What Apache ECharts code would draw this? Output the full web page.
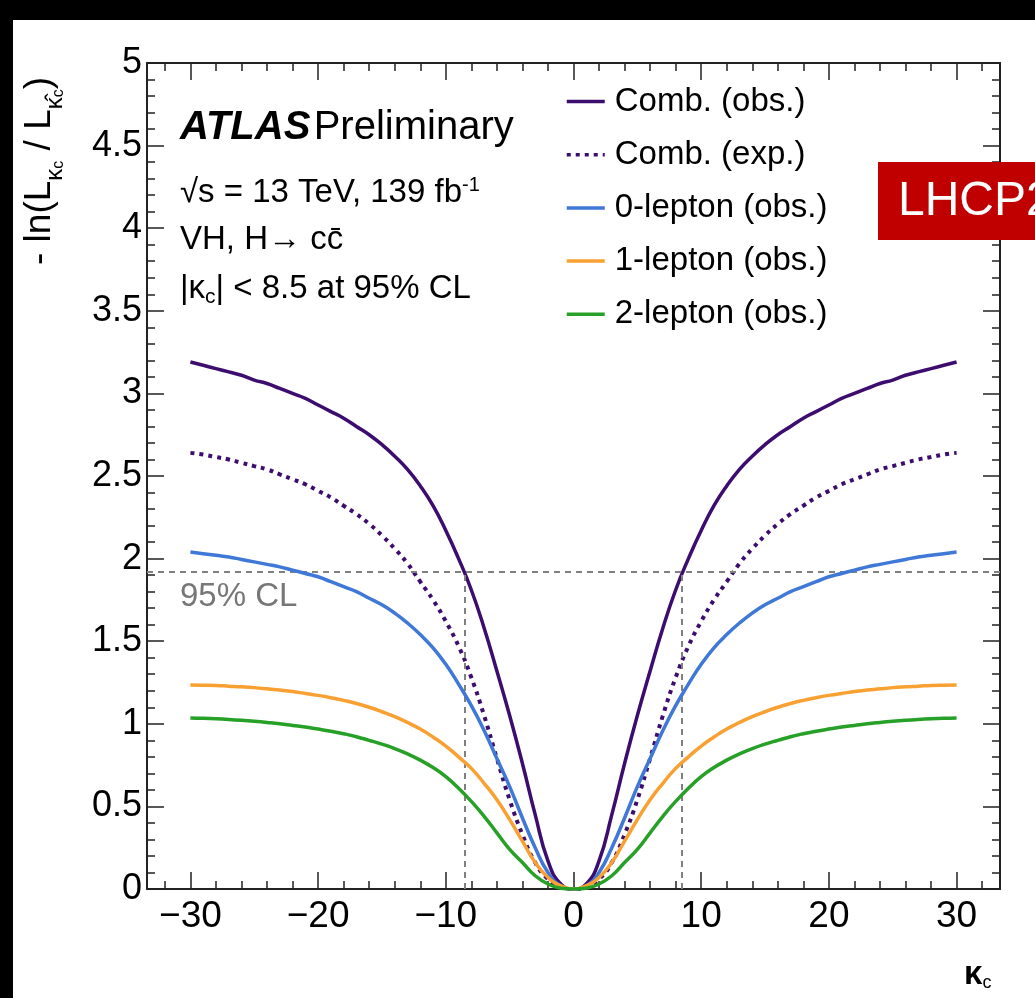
<!DOCTYPE html>
<html>
<head>
<meta charset="utf-8">
<script src="https://cdn.jsdelivr.net/npm/echarts@6/dist/echarts.min.js"></script>
<style>
html,body{margin:0;padding:0;background:#fff;}
#c{width:1035px;height:998px;}
</style>
</head>
<body>
<div id="c"></div>
<script>
const kappa = [-30,-29,-28,-27,-26,-25,-24,-23,-22,-21,-20,-19,-18,-17,-16,-15,-14,-13,-12,-11,-10,-9,-8,-7,-6,-5,-4,-3,-2,-1,0,1,2,3,4,5,6,7,8,9,10,11,12,13,14,15,16,17,18,19,20,21,22,23,24,25,26,27,28,29,30];
const combObs = [3.19,3.17,3.15,3.13,3.11,3.08,3.06,3.03,3.00,2.97,2.93,2.89,2.85,2.80,2.75,2.69,2.62,2.54,2.44,2.32,2.17,2.00,1.81,1.58,1.32,1.05,0.76,0.45,0.17,0.03,
  0,
  0.03,0.17,0.45,0.76,1.05,1.32,1.58,1.81,2.00,2.17,2.32,2.44,2.54,2.62,2.69,2.75,2.80,2.85,2.89,2.93,2.97,3.00,3.03,3.06,3.08,3.11,3.13,3.15,3.17,3.19];
const combExp = [2.64,2.63,2.615,2.60,2.58,2.56,2.54,2.51,2.48,2.45,2.41,2.37,2.32,2.27,2.21,2.14,2.06,1.97,1.86,1.75,1.62,1.47,1.28,1.05,0.79,0.54,0.33,0.16,0.06,0.01,
  0,
  0.01,0.06,0.16,0.33,0.54,0.79,1.05,1.28,1.47,1.62,1.75,1.86,1.97,2.06,2.14,2.21,2.27,2.32,2.37,2.41,2.45,2.48,2.51,2.54,2.56,2.58,2.60,2.615,2.63,2.64];
const zeroLep = [2.04,2.03,2.02,2.01,1.995,1.98,1.965,1.95,1.93,1.91,1.89,1.86,1.83,1.80,1.76,1.72,1.67,1.61,1.54,1.46,1.36,1.24,1.11,0.96,0.79,0.62,0.43,0.25,0.10,0.02,
  0,
  0.02,0.10,0.25,0.43,0.62,0.79,0.96,1.11,1.24,1.36,1.46,1.54,1.61,1.67,1.72,1.76,1.80,1.83,1.86,1.89,1.91,1.93,1.95,1.965,1.98,1.995,2.01,2.02,2.03,2.04];
const oneLep = [1.235,1.234,1.232,1.228,1.224,1.219,1.212,1.204,1.195,1.184,1.172,1.158,1.142,1.123,1.10,1.073,1.043,1.008,0.968,0.92,0.865,0.80,0.73,0.64,0.54,0.42,0.29,0.16,0.07,0.02,
  0,
  0.02,0.07,0.16,0.29,0.42,0.54,0.64,0.73,0.80,0.865,0.92,0.968,1.008,1.043,1.073,1.10,1.123,1.142,1.158,1.172,1.184,1.195,1.204,1.212,1.219,1.224,1.228,1.232,1.234,1.235];
const twoLep = [1.035,1.033,1.03,1.026,1.021,1.015,1.008,1.00,0.99,0.98,0.968,0.955,0.94,0.922,0.90,0.877,0.85,0.818,0.78,0.735,0.68,0.61,0.53,0.44,0.34,0.24,0.16,0.08,0.03,0.005,
  0,
  0.005,0.03,0.08,0.16,0.24,0.34,0.44,0.53,0.61,0.68,0.735,0.78,0.818,0.85,0.877,0.90,0.922,0.94,0.955,0.968,0.98,0.99,1.00,1.008,1.015,1.021,1.026,1.03,1.033,1.035];
const seriesNames = ['Comb. (obs.)','Comb. (exp.)','0-lepton (obs.)','1-lepton (obs.)','2-lepton (obs.)'];
const xMajorTicks = [-30,-20,-10,0,10,20,30];
const xMinorTicks = [-32,-28,-26,-24,-22,-18,-16,-14,-12,-8,-6,-4,-2,2,4,6,8,12,14,16,18,22,24,26,28,32];
const clLevel = 1.92;
const clLimit = 8.5;

const FONT = '"Liberation Sans", Arial, Helvetica, sans-serif';
const AX = '#222';
const pairs = arr => kappa.map((k,i)=>[k,arr[i]]);

const chart = echarts.init(document.getElementById('c'), null, {renderer:'canvas'});

function xAxisDef(pos, ticks, len, showLine, showLabel){
  return {
    type:'value', position:pos, min:-33.4, max:33.4,
    axisLine:{show:showLine, onZero:false, lineStyle:{color:AX, width:2}},
    axisTick:{show:true, inside:true, length:len, customValues:ticks, lineStyle:{color:AX, width:1.5}},
    axisLabel:{show:showLabel, customValues:xMajorTicks, margin:9, color:'#000', fontSize:37, fontFamily:FONT,
      formatter: v => String(v).replace('-', '\u2212')},
    splitLine:{show:false}
  };
}
function yAxisDef(pos, showLabel){
  return {
    type:'value', position:pos, min:0, max:5, interval:0.5,
    axisLine:{show:true, onZero:false, lineStyle:{color:AX, width:2}},
    axisTick:{show:true, inside:true, length:17, lineStyle:{color:AX, width:1.5}},
    minorTick:{show:true, splitNumber:5, length:8, lineStyle:{color:AX, width:1.5}},
    axisLabel:{show:showLabel, margin:5, color:'#000', fontSize:36, fontFamily:FONT},
    splitLine:{show:false}, minorSplitLine:{show:false}
  };
}

const colors = ['#3c0d6e','#3c0d6e','#3f78d6','#f9a032','#27a027'];
const datas = [combObs, combExp, zeroLep, oneLep, twoLep];

const series = [{
  name:'cl', type:'line', data:[], silent:true, z:1,
  markLine:{silent:true, symbol:['none','none'], label:{show:false},
    lineStyle:{color:'#808080', width:2, type:[6,5]},
    data:[
      [{coord:[-33.4, clLevel]},{coord:[33.4, clLevel]}],
      [{coord:[-clLimit, 0]},{coord:[-clLimit, clLevel]}],
      [{coord:[clLimit, 0]},{coord:[clLimit, clLevel]}]
    ]}
}];
seriesNames.forEach((n,i)=>{
  series.push({
    name:n, type:'line', smooth:0.5, symbol:'none', z:3+i,
    data:pairs(datas[i]),
    lineStyle:{color:colors[i], width:i===1?4:3.5, type:i===1?[4,5]:'solid'},
    itemStyle:{color:colors[i]}
  });
});

chart.setOption({
  backgroundColor:'#fff',
  animation:false,
  grid:{left:147, right:35, top:63, bottom:109, containLabel:false},
  xAxis:[
    xAxisDef('bottom', xMajorTicks, 17, true, true),
    xAxisDef('bottom', xMinorTicks, 8, false, false),
    xAxisDef('top', xMajorTicks, 17, true, false),
    xAxisDef('top', xMinorTicks, 8, false, false)
  ],
  yAxis:[yAxisDef('left', true), yAxisDef('right', false)],
  legend:{
    data:seriesNames, orient:'vertical', left:565, top:85, padding:0,
    itemWidth:38, itemHeight:14, itemGap:20.2,
    itemStyle:{opacity:0},
    lineStyle:{width:3.5},
    textStyle:{fontSize:33, lineHeight:32, color:'#000', fontFamily:FONT, padding:[0,0,0,5]},
    selectedMode:false
  },
  series:series,
  graphic:[
    {type:'rect', z:200, shape:{x:0,y:0,width:1035,height:20}, style:{fill:'#000'}},
    {type:'rect', z:200, shape:{x:0,y:0,width:13,height:998}, style:{fill:'#000'}},
    {type:'text', z:100, x:180, y:148, style:{
      text:'{a|ATLAS} {b|Preliminary}', textVerticalAlign:'bottom',
      rich:{a:{fontSize:40, fontWeight:'bold', fontStyle:'italic', fontFamily:FONT, fill:'#000'},
            b:{fontSize:40, fontFamily:FONT, fill:'#000'}}}},
    {type:'text', z:100, x:180, y:175, style:{
      text:'{m|\u221As = 13 TeV, 139 fb}{p|-1}',
      rich:{m:{fontSize:33, fontFamily:FONT, fill:'#000', lineHeight:34, verticalAlign:'bottom'},
            p:{fontSize:20, fontFamily:FONT, fill:'#000', lineHeight:20, verticalAlign:'top'}}}},
    {type:'text', z:100, x:180, y:240, style:{
      text:'VH, H\u2192 cc\u0304', fontSize:33, fontFamily:FONT, fill:'#000', textVerticalAlign:'middle'}},
    {type:'text', z:100, x:180, y:272, style:{
      text:'{m|\u007C\u03BA}{s|c}{m|\u007C < 8.5 at 95% CL}',
      rich:{m:{fontSize:33, fontFamily:FONT, fill:'#000', lineHeight:36, verticalAlign:'top'},
            s:{fontSize:21, fontFamily:FONT, fill:'#000', lineHeight:22, verticalAlign:'bottom'}}}},
    {type:'text', z:100, x:180, y:597, style:{
      text:'95% CL', fontSize:33, fontFamily:FONT, fill:'#777', textVerticalAlign:'middle'}},
    {type:'text', z:100, x:21, y:265, rotation:Math.PI/2, style:{
      text:'{m|- ln(L}{s|\u03BA}{ss|c}{m| / L}{s|\u03BA\u0302}{ss|c}{m|)}',
      rich:{m:{fontSize:37, fontFamily:FONT, fill:'#000', lineHeight:46, verticalAlign:'top'},
            s:{fontSize:24, fontFamily:FONT, fill:'#000', lineHeight:23, verticalAlign:'bottom'},
            ss:{fontSize:16, fontFamily:FONT, fill:'#000', lineHeight:6, verticalAlign:'bottom'}}}},
    {type:'text', z:100, x:964, y:958, style:{
      text:'{k|\u03BA}{c|c}',
      rich:{k:{fontSize:33, fontFamily:FONT, fontWeight:'bold', fill:'#000', lineHeight:34, verticalAlign:'top'},
            c:{fontSize:18, fontFamily:FONT, fill:'#000', lineHeight:14, verticalAlign:'bottom'}}}},
    {type:'rect', z:150, shape:{x:878,y:162,width:200,height:78}, style:{fill:'#c00000'}},
    {type:'text', z:151, x:898, y:202, style:{
      text:'LHCP2021', fontSize:48, fontFamily:FONT, fill:'#fff', textVerticalAlign:'middle'}}
  ]
});
</script>
</body>
</html>
